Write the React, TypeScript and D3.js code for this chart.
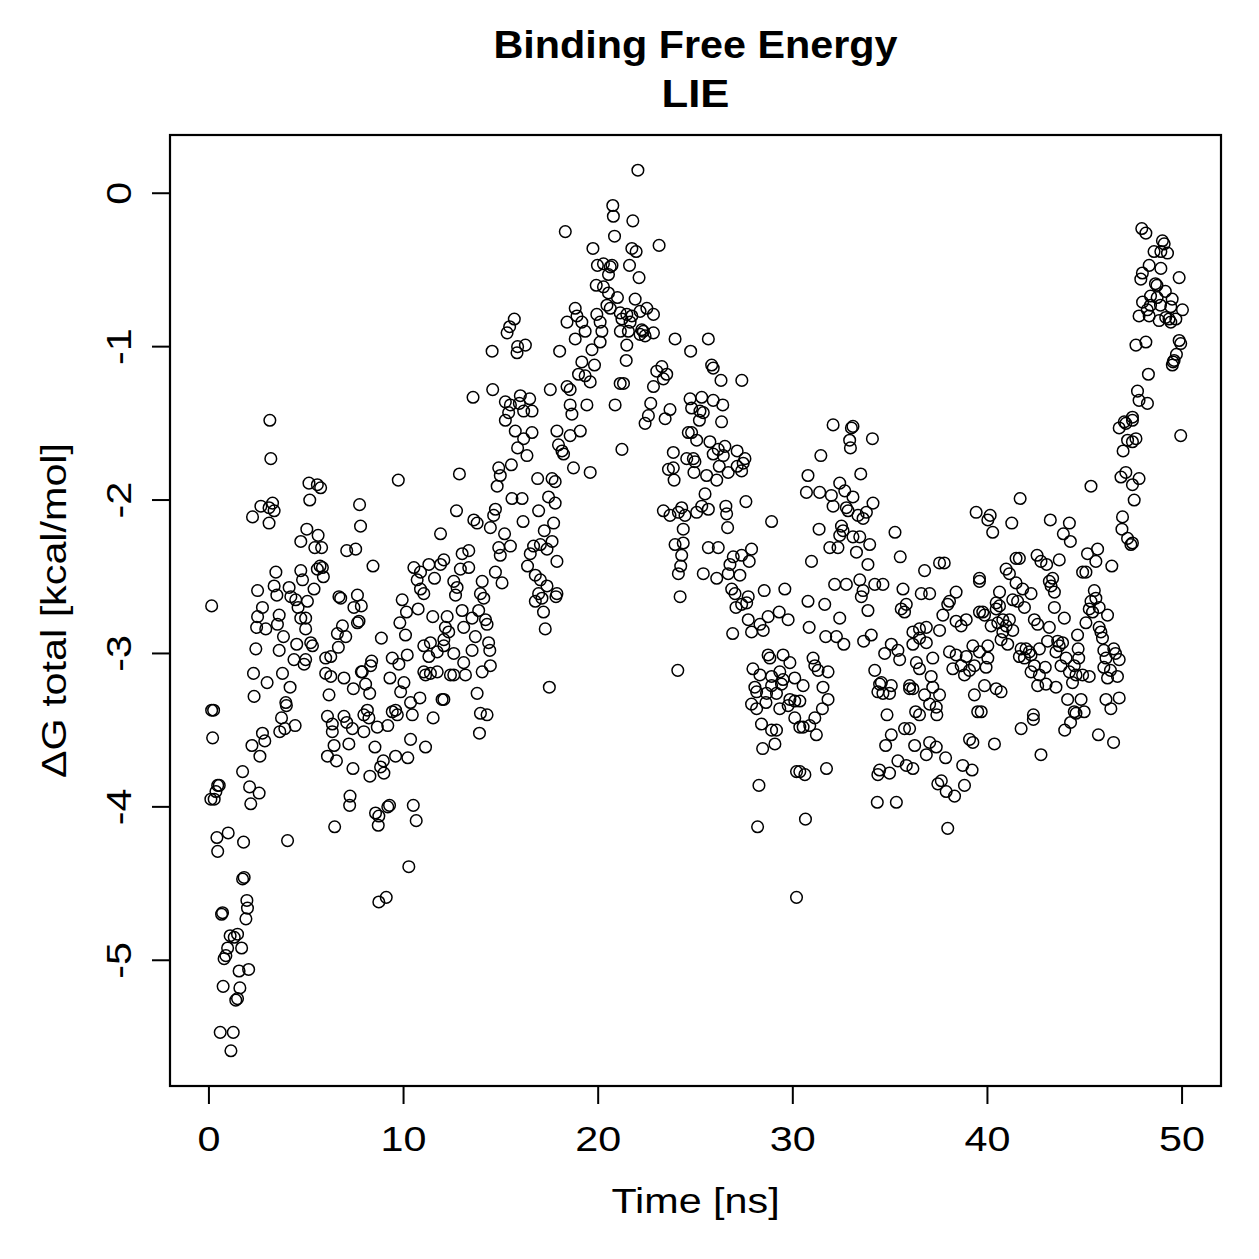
import React from "react";
import * as d3 from "d3";

// [time (ns), ΔG total (kcal/mol)] samples
const startPhase: [number, number][] = [
  [0.14,-3.37],[0.24,-3.37],[0.19,-3.55],[0.45,-3.86],[0.53,-3.86],[0.10,-3.95],[0.27,-3.95],[0.36,-3.90],[0.99,-4.17],[0.41,-4.20],[0.45,-4.29],[1.78,-4.23],[4.04,-4.22],[1.73,-4.47],[1.81,-4.46],[1.95,-4.61],[1.98,-4.66],[1.90,-4.73],[0.65,-4.70],[0.70,-4.69],[1.09,-4.84],[1.30,-4.85],[1.47,-4.83],[1.68,-4.92],[0.96,-4.92],[0.78,-4.99],[0.87,-4.97],[1.55,-5.07],[2.04,-5.06],[0.73,-5.17],[1.59,-5.18],[1.47,-5.25],[1.38,-5.26],[0.58,-5.47],[1.25,-5.47],[1.13,-5.59],[1.73,-3.77],[2.09,-3.87],[2.58,-3.91],[2.15,-3.98],[2.32,-3.28],[2.99,-3.19],[3.78,-3.13],[4.17,-3.22],[3.95,-3.32],[3.98,-3.34],[3.73,-3.42],[4.43,-3.47],[3.64,-3.51],[3.90,-3.49],[2.75,-3.52],[2.87,-3.57],[2.21,-3.60],[2.62,-3.67],[2.29,-3.13],[6.17,-3.27],[6.09,-3.41],[6.34,-3.46],[6.34,-3.51],[6.43,-3.60],[6.09,-3.67],[6.55,-3.70],[7.40,-3.75],[8.27,-3.80],[6.94,-3.41],[7.08,-3.45],[7.37,-3.49],[7.19,-3.59],[7.25,-3.93],[7.23,-3.99],[6.46,-4.13],[7.96,-3.40],[8.14,-3.37],[8.22,-3.42],[7.96,-3.51],[8.65,-3.48],[8.53,-3.61],[9.19,-3.47],[9.42,-3.38],[9.59,-3.37],[9.68,-3.40],[10.45,-3.40],[10.36,-3.32],[10.84,-3.29],[11.98,-3.30],[11.52,-3.42],[10.36,-3.56],[11.13,-3.61],[10.22,-3.68],[9.59,-3.67],[8.96,-3.70],[8.82,-3.74],[8.99,-3.78],[8.56,-4.04],[8.73,-4.06],[9.19,-4.00],[9.28,-3.99],[8.70,-4.12],[10.50,-3.99],[10.65,-4.09],[10.27,-4.39],[8.73,-4.62],[9.11,-4.59],[7.42,-3.23],[8.26,-3.26],[8.05,-3.20],[6.94,-3.16],[6.26,-3.15],[6.00,-3.13],[7.88,-3.12],[9.30,-3.16],[9.85,-3.25],[10.02,-3.19],[11.13,-3.14],[11.38,-3.13],[12.41,-3.14]
];

const earlyRise: [number, number][] = [
  [3.13,-1.48],[3.18,-1.73],[5.14,-1.89],[5.57,-1.90],[5.74,-1.92],[5.18,-2.00],[2.67,-2.04],[3.09,-2.05],[3.27,-2.02],[3.35,-2.07],[2.24,-2.11],[3.09,-2.15],[9.73,-1.87],[7.74,-2.03],[7.79,-2.17],[12.87,-1.83],[12.72,-2.07],[5.03,-2.19],[5.61,-2.23],[4.72,-2.27],[5.44,-2.31],[5.79,-2.31],[7.08,-2.33],[7.54,-2.32],[8.43,-2.43],[3.44,-2.47],[5.71,-2.43],[5.57,-2.45],[5.83,-2.44],[5.88,-2.50],[4.72,-2.46],[4.81,-2.52],[5.40,-2.58],[2.50,-2.59],[3.35,-2.56],[3.49,-2.62],[4.12,-2.57],[4.21,-2.63],[4.46,-2.65],[4.58,-2.70],[5.06,-2.66],[0.14,-2.69],[2.75,-2.70],[2.50,-2.76],[2.45,-2.83],[2.92,-2.84],[3.61,-2.75],[3.52,-2.81],[4.72,-2.77],[4.97,-2.77],[4.97,-2.84],[3.83,-2.89],[2.41,-2.97],[3.61,-2.98],[4.51,-2.94],[5.23,-2.93],[5.32,-2.95],[4.37,-3.04],[4.89,-3.07],[4.97,-3.04],[6.68,-2.63],[6.77,-2.64],[7.63,-2.62],[7.45,-2.70],[7.83,-2.69],[7.63,-2.80],[7.71,-2.79],[6.86,-2.82],[6.60,-2.87],[7.03,-2.89],[6.65,-2.96],[6.00,-3.03],[6.26,-3.02],[8.36,-3.05],[8.31,-3.08],[8.86,-2.90],[7.83,-3.12],[9.93,-2.65],[10.15,-2.73],[10.75,-2.71],[9.81,-2.80],[10.10,-2.88],[11.50,-2.76],[12.24,-2.76],[12.15,-2.83],[12.32,-2.86],[10.53,-2.44],[10.87,-2.47],[11.30,-2.42],[11.90,-2.42],[12.07,-2.39],[11.59,-2.51],[10.70,-2.52],[10.87,-2.58],[11.04,-2.61],[11.90,-2.22],[12.58,-2.53],[12.75,-2.57],[12.67,-2.62],[10.19,-3.01],[9.42,-3.03],[9.76,-3.07],[11.04,-2.95],[11.38,-2.93],[12.07,-2.95],[11.73,-2.99],[11.30,-3.02],[12.58,-3.00],[11.04,-3.12],[11.73,-3.12]
];

const climb: [number, number][] = [
  [15.69,-0.82],[15.45,-0.87],[15.32,-0.91],[14.55,-1.03],[15.86,-1.00],[16.26,-0.99],[15.83,-1.04],[14.58,-1.28],[13.57,-1.33],[15.23,-1.36],[15.49,-1.38],[16.00,-1.32],[16.48,-1.34],[15.95,-1.37],[16.17,-1.42],[16.60,-1.42],[15.40,-1.43],[15.23,-1.48],[15.74,-1.55],[16.17,-1.60],[16.60,-1.56],[15.86,-1.66],[16.34,-1.71],[17.54,-1.28],[18.02,-1.03],[17.88,-1.55],[17.96,-1.64],[18.14,-1.68],[18.22,-1.70],[18.73,-1.79],[19.59,-1.82],[21.22,-1.67],[14.89,-1.79],[14.97,-1.84],[14.81,-1.91],[15.54,-1.77],[16.89,-1.86],[17.63,-1.86],[17.79,-1.88],[15.57,-1.99],[16.09,-1.99],[17.45,-1.98],[17.79,-2.02],[16.94,-2.07],[17.71,-2.15],[17.23,-2.20],[17.63,-2.27],[17.03,-2.29],[16.68,-2.30],[16.51,-2.35],[17.37,-2.32],[16.14,-2.14],[15.19,-2.22],[15.49,-2.30],[14.89,-2.31],[14.97,-2.36],[13.61,-2.13],[13.78,-2.15],[14.46,-2.18],[14.63,-2.10],[14.72,-2.06],[13.01,-2.35],[13.35,-2.33],[12.92,-2.45],[13.35,-2.44],[17.88,-2.40],[16.37,-2.43],[16.77,-2.49],[17.03,-2.52],[17.37,-2.56],[14.72,-2.47],[15.06,-2.54],[14.04,-2.53],[17.88,-2.61]
];

const climbLow: [number, number][] = [
  [24.21,-2.63],[24.09,-3.11],[16.94,-2.61],[16.77,-2.66],[17.11,-2.64],[17.83,-2.63],[17.19,-2.73],[17.28,-2.84],[17.49,-3.22],[13.95,-2.61],[14.12,-2.64],[13.01,-2.72],[13.52,-2.77],[13.86,-2.72],[14.21,-2.78],[14.29,-2.81],[13.09,-2.83],[12.07,-2.91],[13.69,-2.89],[14.37,-2.93],[13.52,-2.98],[14.43,-2.98],[13.09,-3.06],[14.46,-3.08],[14.04,-3.12],[12.58,-3.14],[13.18,-3.14],[12.07,-3.30],[13.78,-3.26],[13.95,-3.39],[14.29,-3.40],[13.90,-3.52]
];

const peak: [number, number][] = [
  [22.04,0.15],[20.75,-0.08],[20.78,-0.15],[21.78,-0.18],[18.31,-0.25],[20.84,-0.28],[19.73,-0.36],[21.73,-0.36],[21.95,-0.38],[23.13,-0.34],[19.96,-0.47],[20.27,-0.46],[20.62,-0.48],[20.71,-0.47],[20.53,-0.53],[21.61,-0.47],[22.10,-0.55],[19.90,-0.60],[20.27,-0.61],[20.53,-0.65],[20.99,-0.68],[21.90,-0.69],[20.45,-0.73],[20.62,-0.75],[22.50,-0.75],[22.15,-0.77],[22.84,-0.79],[18.82,-0.75],[18.91,-0.80],[18.40,-0.84],[19.16,-0.84],[19.93,-0.79],[20.10,-0.84],[20.19,-0.90],[19.33,-0.90],[21.13,-0.78],[21.22,-0.82],[21.47,-0.79],[21.64,-0.84],[21.73,-0.80],[21.14,-0.90],[21.55,-0.90],[22.32,-0.90],[22.15,-0.92],[22.41,-0.93],[22.24,-0.89],[22.84,-0.91],[18.82,-0.95],[20.10,-0.97],[19.68,-1.02],[21.47,-0.99],[21.44,-1.09],[19.16,-1.10],[19.81,-1.12],[18.99,-1.18],[19.33,-1.19],[19.59,-1.23],[18.40,-1.26],[18.56,-1.28],[21.13,-1.24],[21.30,-1.24],[19.42,-1.38],[18.56,-1.38],[18.65,-1.44],[20.87,-1.38],[19.08,-1.55],[18.56,-1.58],[22.70,-1.37],[22.58,-1.45],[22.41,-1.50],[22.84,-1.26],[23.01,-1.16]
];

const descent: [number, number][] = [
  [23.95,-0.95],[25.66,-0.95],[24.75,-1.03],[25.83,-1.12],[25.91,-1.14],[26.31,-1.22],[27.38,-1.22],[23.27,-1.13],[23.52,-1.18],[23.35,-1.21],[24.72,-1.34],[25.32,-1.33],[25.91,-1.35],[26.40,-1.38],[24.80,-1.40],[25.23,-1.42],[25.40,-1.43],[25.20,-1.48],[26.34,-1.49],[23.69,-1.41],[23.44,-1.47],[24.63,-1.56],[24.80,-1.56],[25.06,-1.61],[23.86,-1.69],[24.55,-1.73],[24.89,-1.73],[24.97,-1.75],[23.61,-1.80],[23.86,-1.79],[23.90,-1.87],[24.92,-1.82],[25.57,-1.84],[26.09,-1.87],[25.74,-1.62],[26.17,-1.67],[26.51,-1.65],[26.43,-1.71],[25.91,-1.70],[27.14,-1.68],[27.54,-1.73],[27.45,-1.76],[27.37,-1.81],[26.22,-1.78],[26.68,-1.82],[27.14,-1.78],[25.49,-1.96],[25.32,-2.04],[25.66,-2.06],[25.06,-2.08],[26.56,-2.04],[26.60,-2.09],[26.65,-2.18],[27.59,-2.01],[28.91,-2.14],[23.35,-2.07],[23.69,-2.10],[24.12,-2.08],[24.29,-2.05],[24.46,-2.10],[24.37,-2.19],[23.95,-2.29],[24.37,-2.28],[24.29,-2.36],[24.24,-2.43],[24.12,-2.48],[25.66,-2.31],[26.17,-2.31],[25.40,-2.48],[26.09,-2.51],[26.77,-2.42],[26.94,-2.37],[27.37,-2.36],[27.88,-2.32],[27.76,-2.40],[26.68,-2.48],[27.28,-2.49],[26.86,-2.58],[27.03,-2.61],[27.08,-2.70],[27.37,-2.68],[27.71,-2.63],[27.63,-2.67],[28.53,-2.59],[29.59,-2.58],[29.30,-2.73],[29.76,-2.78],[28.73,-2.76],[27.71,-2.78],[28.31,-2.81],[27.88,-2.86],[26.91,-2.87],[28.48,-2.85],[30.78,-2.66],[31.64,-2.68],[32.41,-2.77],[30.84,-2.83],[32.07,-1.51],[33.01,-1.53],[33.09,-1.52],[32.92,-1.61],[32.96,-1.66],[34.09,-1.60],[31.44,-1.71],[30.78,-1.84],[33.49,-1.83],[30.70,-1.95],[31.38,-1.95],[31.98,-1.97],[32.41,-1.89],[32.67,-1.94],[33.09,-1.98],[32.07,-2.04],[32.75,-2.05],[32.84,-2.07],[34.12,-2.02],[33.78,-2.08],[33.35,-2.10],[33.61,-2.12],[31.35,-2.19],[32.50,-2.17],[32.58,-2.20],[32.41,-2.23],[33.09,-2.24],[33.44,-2.24],[31.90,-2.31],[32.32,-2.31],[33.27,-2.34],[33.95,-2.29],[33.86,-2.42],[30.96,-2.40],[35.25,-2.21],[35.52,-2.37],[36.77,-2.46],[37.54,-2.41],[32.15,-2.55],[32.75,-2.55],[33.44,-2.52],[33.61,-2.59],[33.52,-2.63],[34.21,-2.55],[34.63,-2.55],[33.86,-2.72],[35.66,-2.58],[35.57,-2.71],[35.83,-2.68],[35.74,-2.73],[36.60,-2.61],[37.03,-2.61],[33.64,-2.92],[34.03,-2.88],[36.17,-2.86],[36.51,-2.84],[36.86,-2.83]
];

const trough: [number, number][] = [
  [27.95,-3.10],[28.31,-3.14],[28.73,-3.01],[28.82,-3.03],[29.50,-3.01],[29.85,-3.06],[29.33,-3.12],[28.91,-3.15],[29.50,-3.17],[30.10,-3.16],[28.05,-3.22],[28.91,-3.21],[31.04,-3.03],[31.13,-3.08],[31.30,-3.11],[31.81,-3.12],[30.53,-3.21],[31.55,-3.22],[32.62,-2.94],[31.69,-2.89],[32.24,-2.89],[34.21,-3.11],[34.72,-3.00],[35.06,-2.94],[35.40,-2.98],[35.49,-3.04],[34.55,-3.19],[35.06,-3.21],[36.17,-2.94],[36.51,-2.90],[36.86,-2.93],[36.35,-3.06],[36.51,-3.10],[37.19,-3.03],[37.11,-3.15],[36.00,-3.21],[37.54,-2.85],[38.05,-2.99],[38.39,-3.01],[38.22,-3.10],[38.65,-3.08],[38.91,-3.02],[39.25,-2.95],[39.08,-3.11],[38.82,-3.14],[39.33,-3.08],[39.42,-2.08],[39.59,-2.51],[39.59,-2.53],[39.59,-2.73],[38.39,-2.60],[38.05,-2.66],[37.96,-2.68],[37.71,-2.75],[38.91,-2.78],[38.39,-2.79],[38.65,-2.82],[37.78,-2.41]
];

const troughLow: [number, number][] = [
  [28.14,-3.25],[28.65,-3.26],[27.88,-3.33],[28.14,-3.36],[28.62,-3.32],[29.16,-3.26],[29.42,-3.20],[29.33,-3.36],[29.76,-3.34],[29.85,-3.30],[30.10,-3.31],[30.36,-3.31],[30.10,-3.42],[30.36,-3.48],[30.53,-3.48],[30.87,-3.47],[31.13,-3.42],[31.21,-3.53],[31.81,-3.30],[31.52,-3.36],[28.39,-3.46],[28.91,-3.50],[29.16,-3.50],[29.08,-3.59],[28.45,-3.62],[30.19,-3.77],[30.36,-3.77],[30.62,-3.79],[31.73,-3.75],[28.26,-3.86],[28.19,-4.13],[30.65,-4.08],[30.19,-4.59],[34.37,-3.25],[34.63,-3.26],[34.97,-3.26],[34.46,-3.20],[34.84,-3.40],[36.00,-3.23],[36.17,-3.23],[36.77,-3.27],[37.19,-3.22],[37.54,-3.27],[37.03,-3.33],[37.37,-3.35],[37.40,-3.40],[36.31,-3.38],[36.51,-3.40],[39.33,-3.27],[39.50,-3.38],[35.06,-3.53],[34.77,-3.60],[35.74,-3.49],[36.00,-3.49],[36.26,-3.60],[37.03,-3.58],[37.37,-3.61],[36.86,-3.66],[37.85,-3.68],[35.40,-3.70],[35.83,-3.73],[36.17,-3.75],[34.46,-3.76],[34.37,-3.79],[34.97,-3.78],[39.08,-3.56],[39.25,-3.58],[38.73,-3.73],[39.21,-3.76],[37.45,-3.85],[37.63,-3.83],[37.88,-3.90],[38.31,-3.93],[38.82,-3.86],[34.34,-3.97],[35.32,-3.97],[37.96,-4.14]
];

const plateau: [number, number][] = [
  [46.77,-1.53],[47.11,-1.50],[47.45,-1.48],[47.20,-1.61],[47.63,-1.60],[47.45,-1.62],[46.97,-1.68],[49.93,-1.58],[46.86,-1.85],[47.11,-1.82],[47.79,-1.86],[47.45,-1.90],[45.32,-1.91],[47.54,-2.00],[46.94,-2.11],[46.91,-2.19],[47.20,-2.25],[47.37,-2.29],[47.45,-2.28],[41.68,-1.99],[40.14,-2.10],[40.02,-2.13],[40.27,-2.21],[41.25,-2.15],[43.23,-2.13],[44.21,-2.15],[43.90,-2.22],[44.26,-2.27],[45.14,-2.35],[45.66,-2.32],[45.57,-2.40],[46.39,-2.43],[44.89,-2.47],[45.06,-2.47],[40.96,-2.45],[41.13,-2.48],[41.47,-2.38],[41.64,-2.38],[41.47,-2.54],[41.81,-2.58],[42.24,-2.61],[42.55,-2.36],[42.75,-2.40],[43.04,-2.42],[43.69,-2.39],[43.35,-2.51],[43.18,-2.53],[43.27,-2.56],[43.44,-2.60],[40.62,-2.60],[40.45,-2.67],[40.62,-2.69],[40.45,-2.71],[41.30,-2.65],[41.55,-2.66],[41.90,-2.70],[39.76,-2.73],[39.85,-2.75],[40.19,-2.82],[40.53,-2.80],[40.79,-2.78],[40.96,-2.82],[41.13,-2.78],[41.30,-2.85],[40.79,-2.86],[40.70,-2.91],[41.04,-2.94],[42.41,-2.78],[42.58,-2.81],[43.18,-2.83],[43.44,-2.70],[43.95,-2.77],[45.49,-2.59],[45.32,-2.66],[45.57,-2.64],[45.23,-2.71],[45.40,-2.73],[45.74,-2.70],[46.17,-2.75],[45.06,-2.80],[45.74,-2.83],[45.83,-2.86],[45.91,-2.90],[44.63,-2.88],[40.02,-2.95],[39.59,-2.99],[40.02,-3.03],[39.93,-3.09],[41.73,-2.97],[41.98,-2.97],[42.15,-2.99],[41.64,-3.02],[41.90,-3.03],[42.24,-3.01],[42.41,-3.08],[42.24,-3.12],[42.67,-3.14],[42.58,-3.21],[43.01,-3.20],[42.97,-3.09],[42.67,-2.97],[43.09,-2.92],[43.61,-2.92],[43.69,-2.95],[43.86,-2.93],[43.52,-2.99],[44.04,-3.03],[43.78,-3.08],[44.66,-2.97],[44.69,-3.03],[44.46,-3.08],[44.21,-3.12],[44.55,-3.14],[44.89,-3.14],[45.23,-3.15],[44.37,-3.19],[43.52,-3.22],[45.98,-2.98],[46.49,-2.97],[46.58,-3.00],[46.77,-3.04],[46.09,-3.03],[45.98,-3.09],[46.32,-3.11],[46.17,-3.16],[46.68,-3.15],[39.85,-3.21],[40.45,-3.23],[40.70,-3.25],[39.68,-3.38],[44.12,-3.30],[44.81,-3.30],[46.09,-3.30],[46.77,-3.29],[46.34,-3.36],[42.36,-3.40],[44.46,-3.38],[44.97,-3.38]
];

const plateauLow: [number, number][] = [
  [41.73,-3.49],[42.36,-3.43],[40.36,-3.59],[42.75,-3.66],[43.97,-3.50],[44.27,-3.45],[44.55,-3.39],[45.70,-3.53],[46.48,-3.58]
];

const finalRise: [number, number][] = [
  [47.93,-0.23],[48.14,-0.26],[48.99,-0.31],[49.08,-0.33],[48.56,-0.38],[48.91,-0.38],[49.25,-0.39],[48.31,-0.47],[48.91,-0.49],[47.96,-0.52],[47.88,-0.56],[49.85,-0.55],[48.63,-0.59],[48.71,-0.60],[49.14,-0.64],[48.38,-0.67],[48.72,-0.68],[49.49,-0.69],[47.97,-0.71],[48.38,-0.73],[48.89,-0.73],[48.21,-0.76],[49.42,-0.74],[50.02,-0.76],[47.79,-0.80],[48.31,-0.80],[48.82,-0.83],[49.16,-0.81],[49.33,-0.82],[49.42,-0.84],[49.68,-0.82],[47.63,-0.99],[48.14,-0.97],[49.85,-0.96],[49.93,-0.98],[49.71,-1.05],[49.59,-1.09],[49.54,-1.10],[49.50,-1.12],[48.27,-1.18],[47.71,-1.29],[47.79,-1.35],[48.22,-1.37],[47.45,-1.46],[47.03,-1.49]
];

const timeRange: [number, number] = [0, 50];
const xTicks = [0, 10, 20, 30, 40, 50];
const yTicks = [0, -1, -2, -3, -4, -5];
const titleLines = ["Binding Free Energy", "LIE"];
const xLabel = "Time [ns]";
const yLabel = "ΔG total [kcal/mol]";

const W = 1259;
const H = 1259;
const box = { left: 170, right: 1221, top: 135, bottom: 1086 };
const FONT = "'Liberation Sans', Arial, Helvetica, sans-serif";
const AX_FS = 35;
const AX_SX = 1.18;
const TITLE_FS = 39;
const TITLE_SX = 1.06;

function pad([a, b]: [number, number]): [number, number] {
  const d = (b - a) * 0.04;
  return [a - d, b + d];
}

export default function App() {
  const all = [
    ...startPhase, ...earlyRise, ...climb, ...climbLow, ...peak, ...descent,
    ...trough, ...troughLow, ...plateau, ...plateauLow, ...finalRise,
  ];
  const yExt = d3.extent(all, (d) => d[1]) as [number, number];
  const x = d3.scaleLinear().domain(pad(timeRange)).range([box.left, box.right]);
  const y = d3.scaleLinear().domain(pad(yExt)).range([box.bottom, box.top]);
  const cx = (box.left + box.right) / 2;
  const cy = (box.top + box.bottom) / 2;

  return (
    <svg
      width={W}
      height={H}
      style={{ position: "absolute", left: 0, top: 0, background: "#fff" }}
      fontFamily={FONT}
    >
      <rect x={0} y={0} width={W} height={H} fill="#fff" />
      <text transform={`translate(${cx},58) scale(${TITLE_SX},1)`} textAnchor="middle" fontSize={TITLE_FS} fontWeight="bold">{titleLines[0]}</text>
      <text transform={`translate(${cx},107) scale(${TITLE_SX + 0.06},1)`} textAnchor="middle" fontSize={TITLE_FS} fontWeight="bold">{titleLines[1]}</text>

      <g fill="none" stroke="#000" strokeWidth={1.5}>
        {all.map((d, i) => (
          <circle key={i} cx={x(d[0])} cy={y(d[1])} r={5.8} />
        ))}
      </g>

      <rect
        x={box.left}
        y={box.top}
        width={box.right - box.left}
        height={box.bottom - box.top}
        fill="none"
        stroke="#000"
        strokeWidth={2.2}
      />

      <g stroke="#000" strokeWidth={2}>
        <line x1={x(xTicks[0])} x2={x(xTicks[xTicks.length - 1])} y1={box.bottom} y2={box.bottom} />
        {xTicks.map((t) => (
          <line key={t} x1={x(t)} x2={x(t)} y1={box.bottom} y2={box.bottom + 18} />
        ))}
        <line y1={y(yTicks[0])} y2={y(yTicks[yTicks.length - 1])} x1={box.left} x2={box.left} />
        {yTicks.map((t) => (
          <line key={t} y1={y(t)} y2={y(t)} x1={box.left} x2={box.left - 18} />
        ))}
      </g>

      {xTicks.map((t) => (
        <text
          key={t}
          transform={`translate(${x(t)},1151) scale(${AX_SX},1)`}
          textAnchor="middle"
          fontSize={AX_FS}
        >
          {String(t)}
        </text>
      ))}
      {yTicks.map((t) => (
        <text
          key={t}
          transform={`translate(131,${y(t)}) rotate(-90) scale(${AX_SX},1)`}
          textAnchor="middle"
          fontSize={AX_FS}
        >
          {String(t)}
        </text>
      ))}

      <text transform={`translate(${cx},1213) scale(${AX_SX},1)`} textAnchor="middle" fontSize={AX_FS}>{xLabel}</text>
      <text transform={`translate(66,${cy}) rotate(-90) scale(${AX_SX},1)`} textAnchor="middle" fontSize={AX_FS}>{yLabel}</text>
    </svg>
  );
}
